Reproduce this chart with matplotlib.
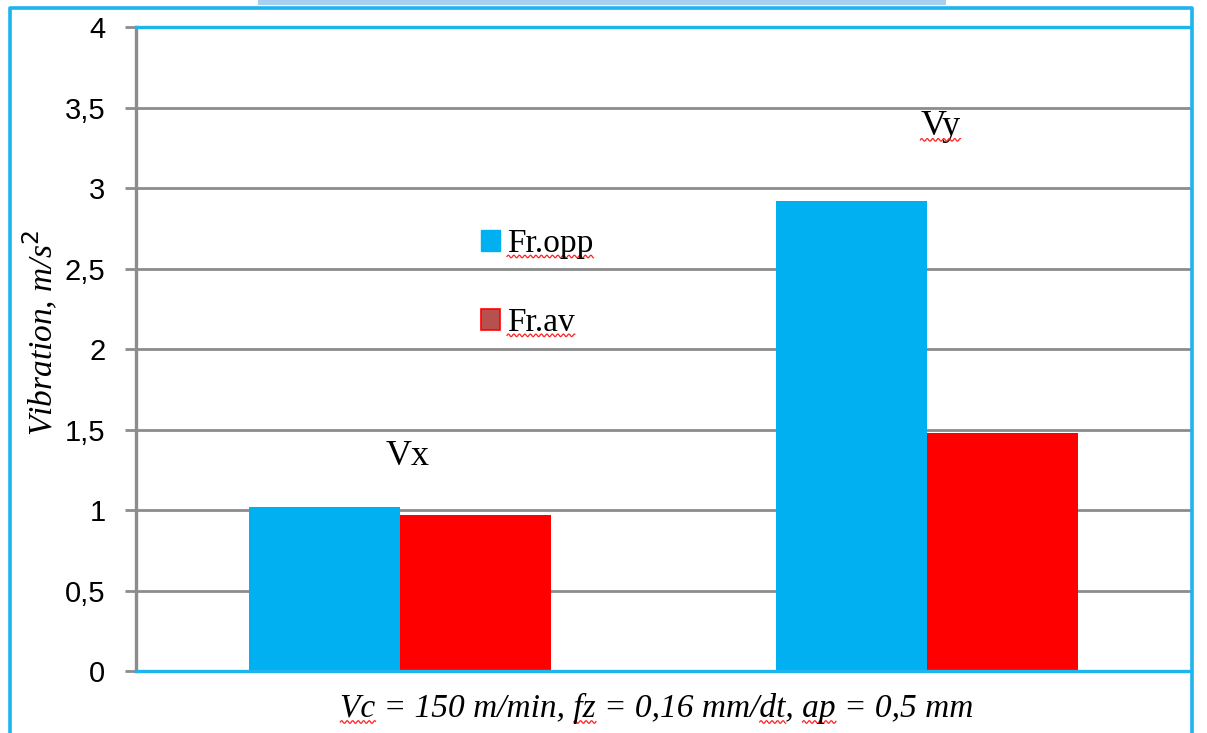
import numpy as np
import matplotlib.pyplot as plt
from matplotlib.patches import Patch, Rectangle
from matplotlib.lines import Line2D

categories = ["Vx", "Vy"]
fr_opp = [1.02, 2.92]
fr_av = [0.97, 1.48]
series_labels = ["Fr.opp", "Fr.av"]
y_ticks = [0, 0.5, 1, 1.5, 2, 2.5, 3, 3.5, 4]
y_tick_labels = ["0", "0,5", "1", "1,5", "2", "2,5", "3", "3,5", "4"]
x_caption = "Vc = 150 m/min, fz = 0,16 mm/dt, ap = 0,5 mm"
y_caption = "Vibration, m/s$^2$"

BLUE = "#00B0F0"
RED = "#FF0000"
FRAME = "#1EB4EE"
GRID = "#8C8C8C"
SERIF = "Liberation Serif"

W, H = 1207, 733
fig = plt.figure(figsize=(W / 100, H / 100), dpi=100)
fig.patch.set_facecolor("white")

# outer chart frame and the tab strip above it
fig.add_artist(Rectangle((258 / W, 1 - 5 / H), (946 - 258) / W, 5 / H,
                         transform=fig.transFigure, facecolor="#A7CFF0",
                         edgecolor="none"))
fig.add_artist(Line2D([10 / W, 10 / W, 1192 / W, 1192 / W],
                      [-0.01, 1 - 8 / H, 1 - 8 / H, -0.01],
                      transform=fig.transFigure, color=FRAME, lw=2.6))

ax = fig.add_axes([136 / W, 62 / H, 1055 / W, 644 / H])
x = np.arange(len(categories))
bw = 0.286
ax.bar(x - bw / 2, fr_opp, bw, color=BLUE, zorder=3)
ax.bar(x + bw / 2, fr_av, bw, color=RED, zorder=3)

ax.set_xlim(-0.5, 1.5)
ax.set_ylim(0, 4)
ax.set_yticks(y_ticks)
ax.set_yticklabels(y_tick_labels, fontfamily="Liberation Sans", fontsize=21)
ax.set_xticks([])
ax.tick_params(axis="y", length=8, width=2, color=GRID, pad=14)
ax.yaxis.grid(True, color=GRID, lw=2, zorder=1)
ax.set_axisbelow(True)

for side in ("top", "bottom"):
    ax.spines[side].set_color(FRAME)
    ax.spines[side].set_linewidth(2.4)
    ax.spines[side].set_zorder(4)
ax.spines["left"].set_color(GRID)
ax.spines["left"].set_linewidth(2.4)
ax.spines["right"].set_visible(False)

vx_label = ax.text(x[0] + 0.015, 1.28, categories[0], ha="center",
                   va="baseline", fontfamily=SERIF, fontsize=26)
vy_label = ax.text(x[1] + 0.025, 3.33, categories[1], ha="center",
                   va="baseline", fontfamily=SERIF, fontsize=26)

handles = [Patch(facecolor=BLUE, edgecolor=BLUE),
           Patch(facecolor="#B8504D", edgecolor=RED, lw=1.2)]
leg = fig.legend(handles, series_labels, loc="upper left",
                 bbox_to_anchor=(481 / W, 1 - 229 / H), frameon=False,
                 prop={"family": SERIF, "size": 24},
                 handlelength=0.58, handleheight=0.58, handletextpad=0.2,
                 labelspacing=1.45, borderpad=0, borderaxespad=0)

caption = fig.text(657 / W, 1 - 717 / H, x_caption, ha="center",
                   va="baseline", fontfamily=SERIF, fontstyle="italic",
                   fontsize=24)
fig.text(41 / W, 1 - 333 / H, y_caption, ha="center", va="center",
         rotation=90, fontfamily=SERIF, fontstyle="italic", fontsize=24)

# red spell-check squiggles under the flagged words
fig.canvas.draw()
renderer = fig.canvas.get_renderer()


def squiggle(x0, x1, y):
    xs = np.linspace(x0, x1, max(int((x1 - x0) * 2), 2))
    ys = y + 1.3 * np.sin((xs - x0) * 2 * np.pi / 5.5)
    fig.add_artist(Line2D(xs / W, ys / H, transform=fig.transFigure,
                          color="#FF2020", lw=0.9))


def text_width(s, prop):
    return renderer.get_text_width_height_descent(s, prop, ismath=False)[0]


for t in list(leg.get_texts()) + [vy_label]:
    bb = t.get_window_extent(renderer)
    squiggle(bb.x0, bb.x1, bb.y0 + 3)

cb = caption.get_window_extent(renderer)
cprop = caption.get_fontproperties()
for word in ("Vc", "fz", "dt", "ap"):
    start = x_caption.index(word)
    x0 = cb.x0 + text_width(x_caption[:start], cprop) if start else cb.x0
    x1 = cb.x0 + text_width(x_caption[:start + len(word)], cprop)
    squiggle(x0, x1, cb.y0 + 2)

fig.savefig("out.png", dpi=100)
